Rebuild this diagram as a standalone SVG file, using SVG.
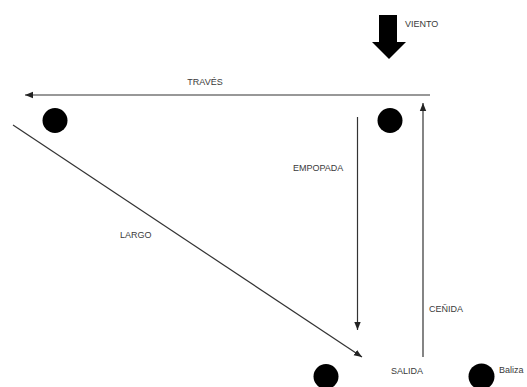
<svg xmlns="http://www.w3.org/2000/svg" width="527" height="387" viewBox="0 0 527 387">
<style>
.t{font-family:"Liberation Sans",Arial,sans-serif;font-size:9px;fill:#3a3a3a}
.c{stroke:#333;stroke-width:1.2;fill:none}
.n{fill:#000}
</style>
<defs>
<marker id="ah" viewBox="0 0 10 10" refX="10" refY="5" markerWidth="8" markerHeight="8" markerUnits="userSpaceOnUse" orient="auto">
<path d="M0,1 L10,5 L0,9 Z" fill="#222"/>
</marker>
</defs>
<rect width="527" height="387" fill="#fff"/>
<g id="wind">
<path d="M379,15 H397 V42 H406 L389,59 L372,42 H379 Z" fill="#000"/>
<text class="t" x="405" y="27">VIENTO</text>
</g>
<g id="connectors">
<line class="c" x1="430" y1="95" x2="25" y2="95" marker-end="url(#ah)"/>
<line class="c" x1="423" y1="357" x2="423" y2="103" marker-end="url(#ah)"/>
<line class="c" x1="357.5" y1="117" x2="357.5" y2="330" marker-end="url(#ah)"/>
<line class="c" x1="13" y1="125" x2="362" y2="357" marker-end="url(#ah)"/>
</g>
<g id="labels">
<text class="t" x="205" y="85" text-anchor="middle">TRAVÉS</text>
<text class="t" x="293" y="171">EMPOPADA</text>
<text class="t" x="120" y="238">LARGO</text>
<text class="t" x="429" y="312">CEÑIDA</text>
<text class="t" x="391" y="374">SALIDA</text>
</g>
<g id="buoy-top-left"><circle class="n" cx="55" cy="120.5" r="12.5"/></g>
<g id="buoy-top-right"><circle class="n" cx="390" cy="120.5" r="12.5"/></g>
<g id="buoy-bottom-left"><circle class="n" cx="326" cy="376.5" r="12.5"/></g>
<g id="buoy-legend">
<circle class="n" cx="481.5" cy="376.5" r="13"/>
<text class="t" x="499" y="372.5">Baliza</text>
</g>
</svg>
